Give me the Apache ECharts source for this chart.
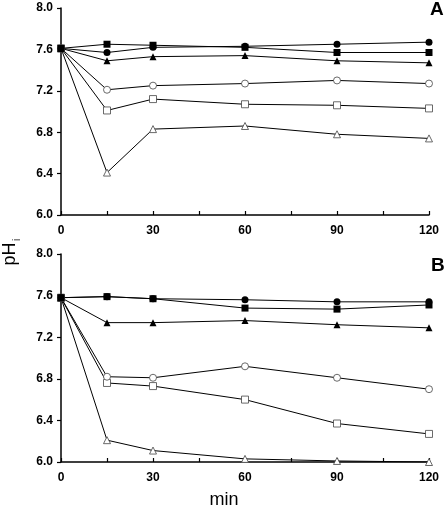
<!DOCTYPE html>
<html><head><meta charset="utf-8">
<script src="https://cdn.jsdelivr.net/npm/echarts@6/dist/echarts.min.js"></script>
<style>html,body{margin:0;padding:0;background:#fff}#c{width:446px;height:508px}</style>
</head><body><div id="c"></div>
<script>
var times = [0, 15, 30, 60, 90, 120];
var yTicks = ['6.0','6.4','6.8','7.2','7.6','8.0'];
var xTickLabels = ['0','30','60','90','120'];
// Panel A
var A_filledCircle   = [7.61, 7.57, 7.62, 7.63, 7.65, 7.67];
var A_filledSquare   = [7.61, 7.65, 7.64, 7.62, 7.57, 7.57];
var A_filledTriangle = [7.61, 7.49, 7.53, 7.54, 7.49, 7.47];
var A_openCircle     = [7.61, 7.21, 7.25, 7.27, 7.30, 7.27];
var A_openSquare     = [7.61, 7.01, 7.12, 7.07, 7.06, 7.03];
var A_openTriangle   = [7.61, 6.41, 6.83, 6.86, 6.78, 6.74];
// Panel B
var B_filledCircle   = [7.58, 7.59, 7.57, 7.56, 7.54, 7.54];
var B_filledSquare   = [7.58, 7.59, 7.57, 7.48, 7.47, 7.51];
var B_filledTriangle = [7.58, 7.34, 7.34, 7.36, 7.32, 7.29];
var B_openCircle     = [7.58, 6.82, 6.81, 6.92, 6.81, 6.70];
var B_openSquare     = [7.58, 6.76, 6.73, 6.60, 6.37, 6.27];
var B_openTriangle   = [7.58, 6.21, 6.11, 6.03, 6.01, 6.00];

var chart = echarts.init(document.getElementById('c'));
var FONT = 'Liberation Sans, Arial, sans-serif';
function pairs(v){ return times.map(function(t,i){return [t, v[i]];}); }
function xAxis(gi){
  return {type:'value', gridIndex:gi, min:0, max:120, interval:15,
    axisLine:{show:true, onZero:false, lineStyle:{color:'#000', width:1.5}},
    axisTick:{show:true, inside:true, length:4, lineStyle:{color:'#000', width:1.2}},
    axisLabel:{margin:10, color:'#000', fontFamily:FONT, fontWeight:'bold', fontSize:12,
      formatter:function(v){ var s=String(v); return xTickLabels.indexOf(s)>=0 ? s : ''; }},
    splitLine:{show:false}};
}
function yAxis(gi){
  return {type:'value', gridIndex:gi, min:6, max:8, interval:0.4,
    axisLine:{show:true, lineStyle:{color:'#000', width:1.5}},
    axisTick:{show:true, inside:false, length:4, lineStyle:{color:'#000', width:1.2}},
    axisLabel:{margin:8, color:'#000', fontFamily:FONT, fontWeight:'bold', fontSize:12,
      formatter:function(v){ var s=v.toFixed(1); return yTicks.indexOf(s)>=0 ? s : ''; }},
    splitLine:{show:false}};
}
function ser(gi, data, sym, filled, size){
  return {type:'line', xAxisIndex:gi, yAxisIndex:gi, data:pairs(data), symbol:sym,
    symbolSize:size, showAllSymbol:true, animation:false,
    lineStyle:{color:'#000', width:1},
    itemStyle:{color: filled ? '#000' : '#fff', borderColor: filled ? '#000' : '#444', borderWidth: filled ? 0 : 0.8}};
}
var series = [];
[[0,[A_openTriangle,A_openSquare,A_openCircle,A_filledTriangle,A_filledCircle,A_filledSquare]],
 [1,[B_openTriangle,B_openSquare,B_openCircle,B_filledTriangle,B_filledCircle,B_filledSquare]]].forEach(function(p){
  var gi=p[0], d=p[1];
  series.push(ser(gi,d[0],'triangle',false,7));
  series.push(ser(gi,d[1],'rect',false,7));
  series.push(ser(gi,d[2],'circle',false,7));
  series.push(ser(gi,d[3],'triangle',true,7));
  series.push(ser(gi,d[4],'circle',true,7));
  series.push(ser(gi,d[5],'rect',true,7));
});
chart.setOption({
  animation:false,
  grid:[{left:61, right:17, top:8, height:207},{left:61, right:17, top:254, height:208}],
  xAxis:[xAxis(0), xAxis(1)],
  yAxis:[yAxis(0), yAxis(1)],
  series:series,
  graphic:[
    {type:'text', left:430, top:0, style:{text:'A', font:'bold 19px '+FONT, fill:'#000'}},
    {type:'text', left:431, top:256, style:{text:'B', font:'bold 19px '+FONT, fill:'#000'}},
    {type:'text', x:224, y:500, style:{text:'min', font:'18px '+FONT, fill:'#000', textAlign:'center', textVerticalAlign:'middle'}},
    {type:'text', x:10, y:254, rotation:Math.PI/2, style:{text:'pH', font:'18px '+FONT, fill:'#000', textAlign:'center', textVerticalAlign:'middle'}},
    {type:'text', x:17, y:240, rotation:Math.PI/2, style:{text:'i', font:'10px '+FONT, fill:'#000', textAlign:'center', textVerticalAlign:'middle'}}
  ]
});
</script></body></html>
